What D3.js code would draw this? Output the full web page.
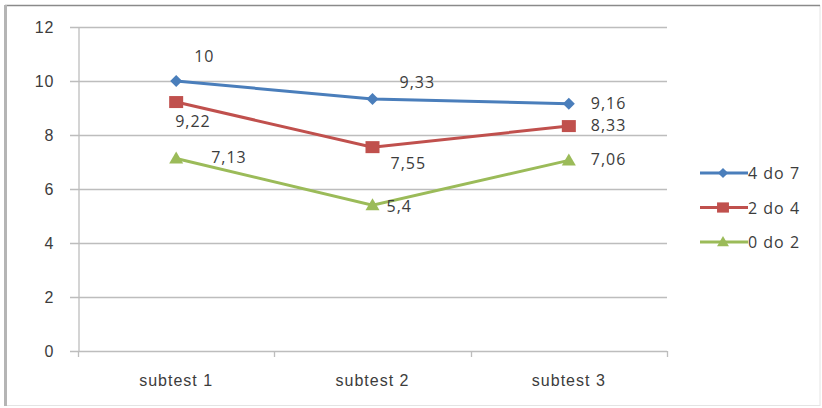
<!DOCTYPE html>
<html>
<head>
<meta charset="utf-8">
<script src="https://cdn.jsdelivr.net/npm/d3@7"></script>
<style>
  html, body { margin: 0; padding: 0; background: #fff; }
  svg { display: block; font-family: "Open Sans", "Liberation Sans", sans-serif; }
  text { letter-spacing: 1px; }
</style>
</head>
<body>
<svg id="chart" width="822" height="408"></svg>
<script>
// Scores per subtest, grouped by age band
const categories = ["subtest 1", "subtest 2", "subtest 3"];
const seriesNames = ["4 do 7", "2 do 4", "0 do 2"];
const values47 = [10, 9.33, 9.16];
const values24 = [9.22, 7.55, 8.33];
const values02 = [7.13, 5.4, 7.06];
const yTicks = [0, 2, 4, 6, 8, 10, 12];

// Styling per series, including where each value label sits relative to its point
const series = [
  { name: seriesNames[0], values: values47, color: "#4A7EBB", marker: "diamond",
    labelOffset: [[18, -19], [27, -11], [22, 5]] },
  { name: seriesNames[1], values: values24, color: "#C0504D", marker: "square",
    labelOffset: [[-1, 25], [18, 22], [22, 5]] },
  { name: seriesNames[2], values: values02, color: "#9BBB59", marker: "triangle",
    labelOffset: [[35, 5], [14, 7], [22, 5]] }
];

const svg = d3.select("#chart");
const FONT = 16, TEXT = "#3c3c3c";

// Outer frame
svg.append("rect").attr("x", 5).attr("y", 5.5).attr("width", 815).attr("height", 400)
  .attr("fill", "#fff").attr("stroke", "#e4e4e4").attr("stroke-width", 1);
svg.append("line").attr("x1", 5).attr("x2", 820).attr("y1", 5.5).attr("y2", 5.5)
  .attr("stroke", "#8a8a8a").attr("stroke-width", 1.5);
svg.append("line").attr("x1", 5.5).attr("x2", 5.5).attr("y1", 5).attr("y2", 406)
  .attr("stroke", "#b5b5b5").attr("stroke-width", 3);

const plot = { left: 78, right: 667, top: 27, bottom: 351 };

const x = d3.scaleBand().domain(categories).range([plot.left, plot.right]).padding(0);
const y = d3.scaleLinear().domain([0, 12]).range([plot.bottom, plot.top]);
const cx = c => x(c) + x.bandwidth() / 2;

// Horizontal gridlines
svg.append("g").selectAll("line").data(yTicks).join("line")
  .attr("x1", plot.left - 8).attr("x2", plot.right)
  .attr("y1", d => Math.round(y(d)) + 0.5).attr("y2", d => Math.round(y(d)) + 0.5)
  .attr("stroke", "#bdbdbd").attr("stroke-width", 1.3);

// Y axis
const yAxis = svg.append("g").attr("transform", `translate(${plot.left + 0.5},0)`)
  .call(d3.axisLeft(y).tickValues(yTicks).tickSize(0).tickPadding(24).tickFormat(d3.format("d")));
yAxis.select(".domain").attr("stroke", "#bdbdbd").attr("stroke-width", 1.3);
yAxis.selectAll("text").attr("font-size", FONT).attr("fill", TEXT).attr("dy", "0.35em");

// X axis
const xAxis = svg.append("g").attr("transform", `translate(0,${Math.round(y(0)) + 0.5})`)
  .call(d3.axisBottom(x).tickSize(0).tickPadding(23));
xAxis.select(".domain").remove();
xAxis.selectAll("text").attr("font-size", FONT).attr("fill", TEXT);
// category boundary ticks
svg.append("g").selectAll("line").data(categories.map(c => x(c)).concat([plot.right])).join("line")
  .attr("x1", d => Math.round(d) + 0.5).attr("x2", d => Math.round(d) + 0.5)
  .attr("y1", plot.bottom).attr("y2", plot.bottom + 6)
  .attr("stroke", "#bdbdbd").attr("stroke-width", 1.3);

const line = d3.line().x((d, i) => cx(categories[i])).y(d => y(d));

function drawMarker(g, type, px, py, color, scale) {
  const s = scale || 1;
  if (type === "diamond") {
    g.append("path").attr("d", `M${px},${py - 6 * s}L${px + 6 * s},${py}L${px},${py + 6 * s}L${px - 6 * s},${py}Z`).attr("fill", color);
  } else if (type === "square") {
    g.append("rect").attr("x", px - 7 * s).attr("y", py - 6 * s).attr("width", 14 * s).attr("height", 12 * s).attr("fill", color);
  } else {
    g.append("path").attr("d", `M${px},${py - 7 * s}L${px + 7 * s},${py + 5 * s}L${px - 7 * s},${py + 5 * s}Z`).attr("fill", color);
  }
}

const fmt = v => String(v).replace(".", ",");

series.forEach(s => {
  const g = svg.append("g");
  g.append("path").datum(s.values).attr("d", line)
    .attr("fill", "none").attr("stroke", s.color).attr("stroke-width", 3);
  s.values.forEach((v, i) => {
    const px = cx(categories[i]), py = y(v);
    drawMarker(g, s.marker, px, py, s.color);
    const [dx, dy] = s.labelOffset[i];
    g.append("text").attr("x", px + dx).attr("y", py + dy)
      .attr("font-size", FONT).attr("fill", TEXT).text(fmt(v));
  });
});

// Legend
const legend = svg.append("g");
series.forEach((s, i) => {
  const ly = 173 + i * 34.5;
  legend.append("line").attr("x1", 700).attr("x2", 748).attr("y1", ly).attr("y2", ly)
    .attr("stroke", s.color).attr("stroke-width", 3);
  drawMarker(legend, s.marker, 723, ly, s.color, 0.85);
  legend.append("text").attr("x", 748).attr("y", ly + 6).attr("font-size", FONT)
    .attr("fill", TEXT).text(s.name);
});
</script>
</body>
</html>
